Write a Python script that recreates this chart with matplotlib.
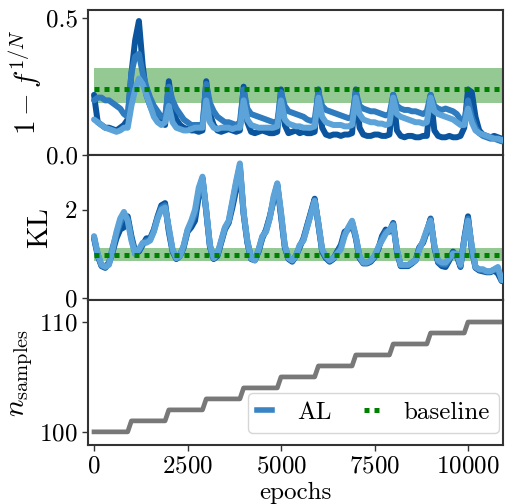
import matplotlib
matplotlib.use("Agg")
import matplotlib.pyplot as plt
from matplotlib.lines import Line2D

plt.rcParams['font.family'] = 'serif'
plt.rcParams['font.serif'] = ['cmr10', 'DejaVu Serif']
plt.rcParams['mathtext.fontset'] = 'cm'
plt.rcParams['axes.formatter.use_mathtext'] = True

epochs = list(range(0, 11000, 100))

f_dark = [0.22,0.12,0.11,0.10,0.10,0.095,0.09,0.10,0.11,0.13,
          0.30,0.42,0.49,0.33,0.22,0.18,0.15,0.13,0.12,0.11,
          0.27,0.17,0.13,0.11,0.10,0.095,0.09,0.09,0.085,0.09,
          0.27,0.15,0.11,0.09,0.085,0.09,0.095,0.09,0.085,0.09,
          0.25,0.12,0.085,0.08,0.085,0.09,0.085,0.08,0.08,0.085,
          0.24,0.11,0.08,0.085,0.09,0.08,0.085,0.08,0.08,0.085,
          0.24,0.10,0.075,0.07,0.075,0.075,0.07,0.075,0.075,0.08,
          0.24,0.10,0.075,0.07,0.07,0.075,0.075,0.07,0.07,0.075,
          0.22,0.09,0.07,0.065,0.07,0.07,0.065,0.065,0.07,0.07,
          0.22,0.09,0.07,0.065,0.065,0.07,0.065,0.065,0.07,0.10,
          0.24,0.23,0.14,0.09,0.075,0.07,0.065,0.07,0.065,0.06]
f_mid = [0.20,0.21,0.21,0.20,0.20,0.19,0.18,0.17,0.15,0.14,
         0.30,0.36,0.37,0.30,0.25,0.21,0.18,0.16,0.14,0.14,
         0.25,0.20,0.17,0.15,0.13,0.12,0.11,0.11,0.11,0.11,
         0.26,0.19,0.16,0.14,0.13,0.12,0.12,0.115,0.11,0.12,
         0.24,0.17,0.15,0.145,0.14,0.135,0.13,0.125,0.12,0.12,
         0.23,0.18,0.16,0.155,0.15,0.145,0.14,0.13,0.125,0.13,
         0.23,0.18,0.165,0.16,0.155,0.15,0.145,0.14,0.135,0.14,
         0.23,0.18,0.17,0.165,0.16,0.16,0.155,0.15,0.145,0.15,
         0.22,0.18,0.17,0.165,0.165,0.16,0.16,0.155,0.15,0.16,
         0.22,0.18,0.17,0.165,0.17,0.165,0.16,0.15,0.13,0.12,
         0.20,0.14,0.10,0.08,0.07,0.065,0.06,0.06,0.055,0.05]
f_light = [0.13,0.12,0.11,0.10,0.095,0.09,0.085,0.09,0.10,0.10,
           0.18,0.24,0.28,0.26,0.22,0.18,0.14,0.12,0.11,0.12,
           0.18,0.12,0.10,0.095,0.09,0.09,0.095,0.10,0.10,0.10,
           0.20,0.12,0.10,0.095,0.10,0.10,0.10,0.095,0.10,0.10,
           0.20,0.13,0.11,0.105,0.10,0.10,0.10,0.10,0.10,0.105,
           0.20,0.13,0.115,0.11,0.105,0.105,0.10,0.10,0.10,0.105,
           0.21,0.14,0.12,0.115,0.11,0.11,0.11,0.105,0.105,0.11,
           0.21,0.15,0.13,0.125,0.12,0.12,0.115,0.115,0.11,0.115,
           0.21,0.15,0.14,0.135,0.13,0.125,0.12,0.12,0.115,0.12,
           0.21,0.16,0.15,0.145,0.14,0.135,0.13,0.12,0.11,0.11,
           0.17,0.12,0.09,0.08,0.075,0.07,0.065,0.06,0.06,0.055]

kl_dark = [1.35,0.95,0.72,0.68,0.78,1.05,1.35,1.55,1.60,1.85,
           1.40,1.05,1.05,1.20,1.35,1.35,1.55,1.85,2.10,2.15,
           1.50,1.05,0.88,0.95,1.15,1.50,1.60,1.75,2.30,2.70,
           1.95,1.15,0.88,0.95,1.25,1.55,1.70,2.05,2.45,2.95,
           1.90,1.25,0.88,0.85,1.05,1.35,1.55,1.85,2.20,2.55,
           1.85,1.15,0.88,0.82,0.95,1.15,1.35,1.65,1.95,2.25,
           1.65,1.05,0.90,0.82,0.88,1.05,1.20,1.50,1.55,1.70,
           1.35,0.90,0.78,0.78,0.82,0.92,1.10,1.40,1.55,1.50,
           1.70,1.05,0.72,0.72,0.72,0.78,0.85,1.15,1.25,1.50,
           1.80,1.15,0.80,0.72,0.70,0.85,1.05,0.95,0.70,1.35,
           1.85,1.10,0.68,0.62,0.60,0.58,0.58,0.62,0.55,0.38]
kl_mid = [1.38,0.98,0.73,0.72,0.80,1.15,1.45,1.70,1.90,1.80,
          1.35,1.00,1.08,1.22,1.30,1.32,1.52,1.82,2.05,2.10,
          1.55,1.08,0.90,0.98,1.18,1.52,1.70,1.90,2.40,2.72,
          1.98,1.18,0.90,0.98,1.28,1.58,1.72,2.15,2.60,3.00,
          1.92,1.28,0.90,0.86,1.08,1.38,1.52,1.82,2.25,2.58,
          1.90,1.18,0.90,0.84,0.96,1.18,1.32,1.62,1.92,2.22,
          1.68,1.08,0.92,0.84,0.90,1.02,1.15,1.45,1.58,1.72,
          1.38,0.92,0.80,0.80,0.84,0.94,1.12,1.35,1.50,1.52,
          1.68,1.08,0.74,0.74,0.74,0.80,0.86,1.12,1.28,1.52,
          1.78,1.18,0.82,0.76,0.75,0.88,1.02,0.98,0.72,1.32,
          1.80,1.15,0.70,0.64,0.62,0.60,0.60,0.64,0.62,0.45]
kl_light = [1.40,1.00,0.75,0.70,0.75,1.10,1.50,1.80,1.95,1.75,
            1.30,1.00,1.10,1.25,1.25,1.30,1.50,1.80,2.00,2.05,
            1.60,1.10,0.90,0.95,1.20,1.55,1.75,2.00,2.50,2.75,
            2.00,1.20,0.90,1.00,1.30,1.60,1.75,2.20,2.65,3.05,
            1.95,1.30,0.90,0.85,1.10,1.40,1.50,1.80,2.30,2.60,
            1.95,1.20,0.90,0.85,0.95,1.20,1.30,1.60,1.90,2.20,
            1.70,1.10,0.95,0.85,0.90,1.00,1.10,1.40,1.60,1.75,
            1.40,0.95,0.80,0.80,0.85,0.95,1.15,1.30,1.45,1.55,
            1.65,1.10,0.75,0.75,0.75,0.80,0.85,1.10,1.30,1.55,
            1.75,1.20,0.85,0.80,0.80,0.90,1.00,1.00,0.75,1.30,
            1.75,1.20,0.70,0.65,0.65,0.60,0.60,0.65,0.70,0.40]

# n_samples breakpoints
ns_epochs = [0, 900, 1000, 1900, 2000, 2900, 3000, 3900, 4000, 4900, 5000,
             5900, 6000, 6900, 7000, 7900, 8000, 8900, 9000, 9900, 10000, 10900]
ns_values = [100, 100, 101, 101, 102, 102, 103, 103, 104, 104, 105,
             105, 106, 106, 107, 107, 108, 108, 109, 109, 110, 110]

base_f = 0.24
base_f_lo, base_f_hi = 0.19, 0.32
base_kl = 0.98
base_kl_lo, base_kl_hi = 0.83, 1.12
base_x = [0, 10900]

c_dark, c_mid, c_light = '#0b559f', '#2e7cbf', '#5ba3d8'
lw = 4.3

fig = plt.figure(figsize=(5.06, 5.04), dpi=100)
gs = fig.add_gridspec(3, 1, left=0.174, right=0.994, top=0.980, bottom=0.117, hspace=0)
ax1 = fig.add_subplot(gs[0])
ax2 = fig.add_subplot(gs[1], sharex=ax1)
ax3 = fig.add_subplot(gs[2], sharex=ax1)

for ax, lo, hi, b in [(ax1, base_f_lo, base_f_hi, base_f), (ax2, base_kl_lo, base_kl_hi, base_kl)]:
    ax.fill_between(base_x, [lo, lo], [hi, hi], color='green', alpha=0.42, lw=0, zorder=1)
    ax.plot(base_x, [b, b], color='green', lw=3.6, ls=(0, (1, 1)), zorder=5)

for ys, c in [(f_dark, c_dark), (f_mid, c_mid), (f_light, c_light)]:
    ax1.plot(epochs, ys, color=c, lw=lw, solid_capstyle='round', solid_joinstyle='round', zorder=3)
for ys, c in [(kl_dark, c_dark), (kl_mid, c_mid), (kl_light, c_light)]:
    ax2.plot(epochs, ys, color=c, lw=lw, solid_capstyle='round', solid_joinstyle='round', zorder=3)

ax3.plot(ns_epochs, ns_values, color='#787878', lw=3.4)

ax1.set_ylim(0, 0.53)
ax1.set_yticks([0.0, 0.5])
ax1.set_yticklabels(['0.0', '0.5'])
ax2.set_ylim(-0.05, 3.24)
ax2.set_yticks([0, 2])
ax3.set_ylim(98.8, 112)
ax3.set_yticks([100, 110])
ax1.set_xlim(-160, 10935)
ax3.set_xticks([0, 2500, 5000, 7500, 10000])

fs = 18
for ax in (ax1, ax2, ax3):
    ax.tick_params(labelsize=fs, width=1.0, length=4, color='#333333')
    for s in ax.spines.values():
        s.set_linewidth(1.5)
        s.set_color('#333333')
for ax in (ax1, ax2):
    ax.tick_params(labelbottom=False)

ax1.set_ylabel(r'$1-f^{1/N}$', fontsize=21, labelpad=1)
ax2.set_ylabel('KL', fontsize=21, labelpad=8)
ax3.set_ylabel(r'$n_{\rm samples}$', fontsize=21, labelpad=3)
ax3.set_xlabel('epochs', fontsize=fs, labelpad=3)

handles = [Line2D([], [], color='#3a84c4', lw=4),
           Line2D([], [], color='green', lw=3.6, ls=(0, (1, 1)))]
ax3.legend(handles, ['AL', 'baseline'], loc='lower right', bbox_to_anchor=(0.99, 0.085),
           borderaxespad=0, ncol=2, fontsize=fs, handlelength=0.6, handletextpad=1.0,
           columnspacing=1.3, borderpad=0.35, framealpha=0.8, edgecolor='#cccccc', fancybox=True)

fig.savefig('out.png', dpi=100)
